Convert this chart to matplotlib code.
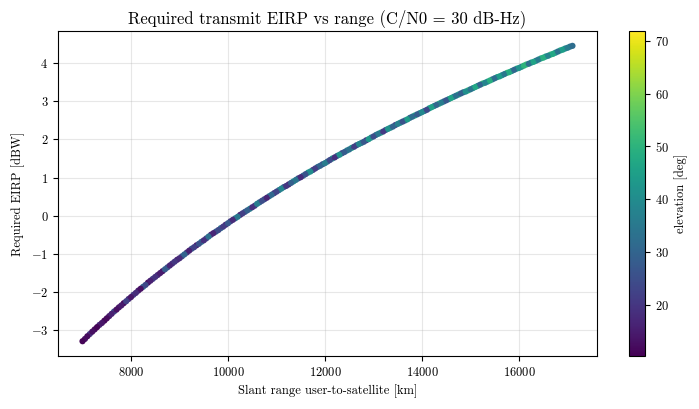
import matplotlib
matplotlib.use("Agg")
import matplotlib.pyplot as plt

plt.rcParams['font.family'] = 'serif'
plt.rcParams['font.serif'] = ['cmr10']
plt.rcParams['mathtext.fontset'] = 'cm'
plt.rcParams['axes.formatter.use_mathtext'] = True

# ---- pass A ----
slant_range_km = [
    7000, 7100, 7200, 7300, 7400, 7500, 7600, 7700, 7800, 7900,
    8000, 8100, 8200, 8300, 8400, 8500, 8600, 8700, 8800, 8900,
    9000, 9100, 9200, 9300, 9400, 9500, 9600, 9700, 9800, 9900,
    10000, 10100, 10200, 10300, 10400, 10500, 10600, 10700, 10800, 10900,
    11000, 11100, 11200, 11300, 11400, 11500, 11600, 11700, 11800, 11900,
    12000, 12100, 12200, 12300, 12400, 12500, 12600, 12700, 12800, 12900,
    13000, 13100, 13200, 13300, 13400, 13500, 13600, 13700, 13800, 13900,
    14000, 14100, 14200, 14300, 14400, 14500, 14600, 14700, 14800, 14900,
    15000, 15100, 15200, 15300, 15400, 15500, 15600, 15700, 15800, 15900,
    16000, 16100, 16200, 16300, 16400, 16500, 16600, 16700, 16800, 16900,
    17000, 17100,
]
eirp_dbw = [
    -3.30, -3.17, -3.05, -2.93, -2.82, -2.70, -2.58, -2.47, -2.36, -2.25,
    -2.14, -2.03, -1.92, -1.82, -1.71, -1.61, -1.51, -1.41, -1.31, -1.21,
    -1.12, -1.02, -0.92, -0.83, -0.74, -0.65, -0.55, -0.46, -0.38, -0.29,
    -0.20, -0.11, -0.03, 0.06, 0.14, 0.22, 0.31, 0.39, 0.47, 0.55,
    0.63, 0.71, 0.78, 0.86, 0.94, 1.01, 1.09, 1.16, 1.24, 1.31,
    1.38, 1.46, 1.53, 1.60, 1.67, 1.74, 1.81, 1.88, 1.94, 2.01,
    2.08, 2.15, 2.21, 2.28, 2.34, 2.41, 2.47, 2.53, 2.60, 2.66,
    2.72, 2.78, 2.85, 2.91, 2.97, 3.03, 3.09, 3.15, 3.21, 3.26,
    3.32, 3.38, 3.44, 3.49, 3.55, 3.61, 3.66, 3.72, 3.77, 3.83,
    3.88, 3.94, 3.99, 4.04, 4.10, 4.15, 4.20, 4.25, 4.31, 4.36,
    4.41, 4.46,
]
elevation_deg = [
    11, 12, 13, 11, 14, 12, 16, 13, 15, 22,
    14, 18, 13, 24, 16, 19, 15, 28, 17, 20,
    18, 30, 16, 22, 26, 19, 33, 17, 24, 21,
    27, 18, 35, 22, 29, 19, 36, 25, 17, 31,
    23, 38, 20, 29, 34, 18, 26, 40, 22, 30,
    36, 24, 19, 41, 28, 33, 22, 38, 27, 43,
    25, 35, 21, 42, 30, 37, 26, 44, 32, 28,
    39, 24, 45, 31, 36, 27, 46, 33, 29, 41,
    34, 47, 30, 38, 49, 32, 44, 35, 48, 31,
    42, 50, 33, 46, 36, 49, 38, 47, 34, 44,
    36, 32,
]

# ---- pass B ----
slant_range_km_b = [
    7050, 7150, 7250, 7350, 7450, 7550, 7650, 7750, 7850, 7950,
    8050, 8150, 8250, 8350, 8450, 8550, 8650, 8750, 8850, 8950,
    9050, 9150, 9250, 9350, 9450, 9550, 9650, 9750, 9850, 9950,
    10050, 10150, 10250, 10350, 10450, 10550, 10650, 10750, 10850, 10950,
    11050, 11150, 11250, 11350, 11450, 11550, 11650, 11750, 11850, 11950,
    12050, 12150, 12250, 12350, 12450, 12550, 12650, 12750, 12850, 12950,
    13050, 13150, 13250, 13350, 13450, 13550, 13650, 13750, 13850, 13950,
    14050, 14150, 14250, 14350, 14450, 14550, 14650, 14750, 14850, 14950,
    15050, 15150, 15250, 15350, 15450, 15550, 15650, 15750, 15850, 15950,
    16050, 16150, 16250, 16350, 16450, 16550, 16650, 16750, 16850, 16950,
    17050,
]
eirp_dbw_b = [
    -3.24, -3.11, -2.99, -2.87, -2.76, -2.64, -2.52, -2.41, -2.30, -2.19,
    -2.08, -1.97, -1.87, -1.76, -1.66, -1.56, -1.46, -1.36, -1.26, -1.16,
    -1.07, -0.97, -0.87, -0.78, -0.69, -0.60, -0.50, -0.42, -0.33, -0.24,
    -0.15, -0.07, 0.02, 0.10, 0.18, 0.26, 0.35, 0.43, 0.51, 0.59,
    0.67, 0.75, 0.82, 0.90, 0.98, 1.05, 1.13, 1.20, 1.28, 1.35,
    1.42, 1.50, 1.57, 1.64, 1.71, 1.78, 1.85, 1.91, 1.98, 2.05,
    2.12, 2.18, 2.25, 2.31, 2.38, 2.44, 2.50, 2.57, 2.63, 2.69,
    2.75, 2.82, 2.88, 2.94, 3.00, 3.06, 3.12, 3.18, 3.24, 3.29,
    3.35, 3.41, 3.47, 3.52, 3.58, 3.64, 3.69, 3.75, 3.80, 3.86,
    3.91, 3.97, 4.02, 4.07, 4.13, 4.18, 4.23, 4.28, 4.34, 4.39,
    4.44,
]
elevation_deg_b = [
    13, 20, 12, 17, 11, 15, 25, 14, 12, 18,
    21, 15, 30, 13, 22, 17, 14, 26, 19, 16,
    25, 20, 28, 15, 34, 23, 18, 29, 31, 19,
    22, 33, 16, 27, 38, 21, 30, 24, 34, 20,
    35, 27, 17, 39, 24, 31, 42, 21, 33, 26,
    29, 40, 31, 23, 37, 45, 26, 34, 20, 39,
    33, 46, 29, 38, 23, 41, 35, 30, 47, 36,
    30, 43, 35, 48, 28, 40, 37, 45, 32, 50,
    40, 36, 51, 42, 33, 46, 39, 52, 37, 45,
    38, 52, 41, 35, 48, 43, 51, 40, 47, 39,
    33,
]

elev_min, elev_max = 10.4, 71.8

fig = plt.figure(figsize=(6.99, 4.09), dpi=100)
ax = fig.add_axes([0.083, 0.1296, 0.771, 0.7944])
cax = fig.add_axes([0.900, 0.1296, 0.0229, 0.7944])

ax.scatter(slant_range_km_b, eirp_dbw_b, c=elevation_deg_b, cmap='viridis',
           vmin=elev_min, vmax=elev_max, s=20, linewidths=0, zorder=3)
sc = ax.scatter(slant_range_km, eirp_dbw, c=elevation_deg, cmap='viridis',
                vmin=elev_min, vmax=elev_max, s=20, linewidths=0, zorder=3)
ax.grid(True, alpha=0.3)
ax.set_axisbelow(True)
ax.set_title('Required transmit EIRP vs range (C/N0 = 30 dB-Hz)', fontsize=12)
ax.set_xlabel('Slant range user-to-satellite [km]', fontsize=9)
ax.set_ylabel('Required EIRP [dBW]', fontsize=9)
ax.tick_params(labelsize=9)

cb = fig.colorbar(sc, cax=cax)
cb.set_label('elevation [deg]', fontsize=9)
cb.ax.tick_params(labelsize=9)

fig.savefig('out.png', dpi=100)
